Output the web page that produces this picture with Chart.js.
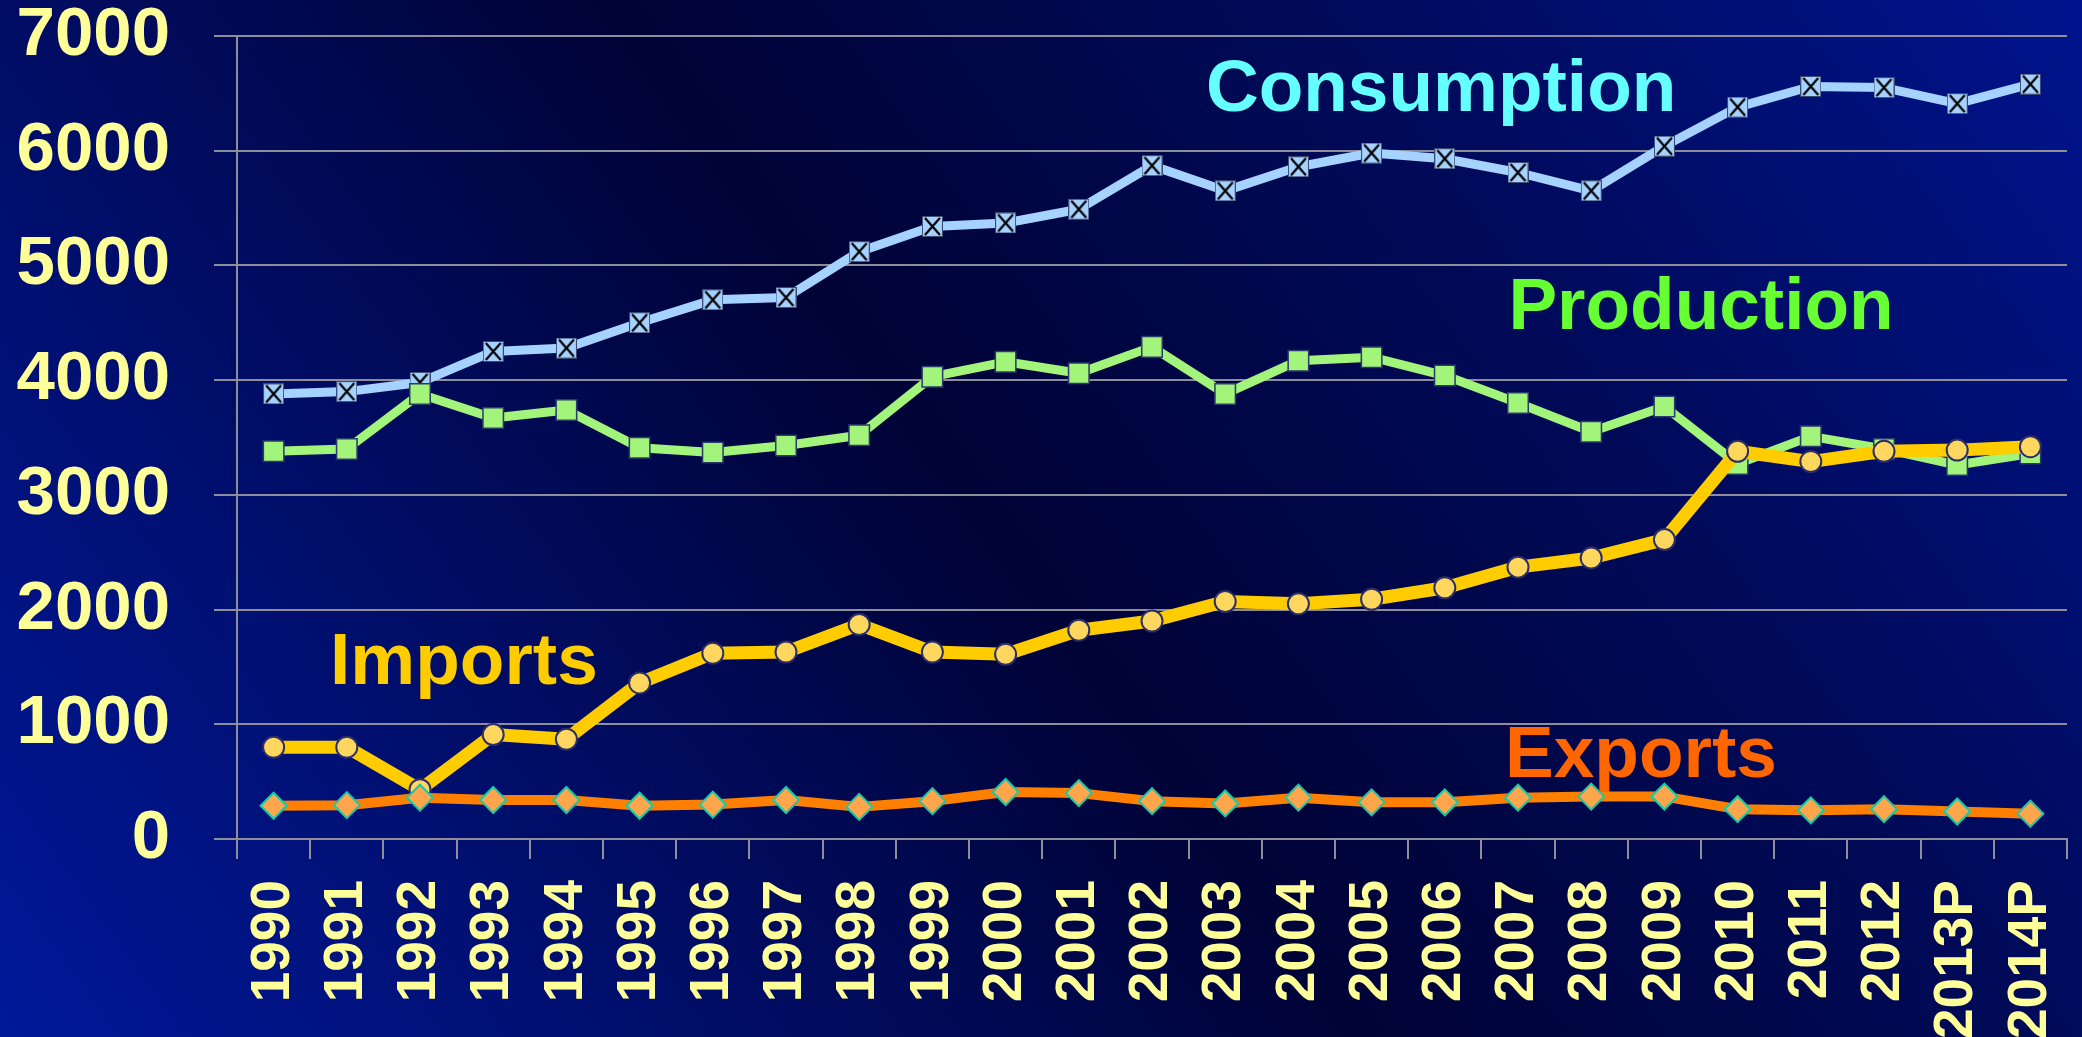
<!DOCTYPE html>
<html lang="en">
<head>
  <meta charset="UTF-8">
  <title>Consumption, Production, Imports, Exports 1990-2014</title>
  <script src="https://cdn.jsdelivr.net/npm/chart.js"></script>
  <style>
    html, body {
      margin: 0;
      width: 2082px;
      height: 1037px;
      overflow: hidden;
    }
    body {
      background: linear-gradient(54deg, #00189a 0%, #000f6e 22%, #000336 48%, #000a58 72%, #00148e 100%);
    }
    canvas { display: block; }
  </style>
</head>
<body>
  <canvas id="chart" width="2087" height="1037" style="width:2087px;height:1037px"></canvas>

  <script>
    // data
    const years = ['1990','1991','1992','1993','1994','1995','1996','1997','1998','1999',
      '2000','2001','2002','2003','2004','2005','2006','2007','2008','2009',
      '2010','2011','2012','2013P','2014P'];
    const consumption = [3880,3900,3980,4250,4280,4500,4700,4720,5120,5340,
      5370,5490,5870,5650,5860,5980,5930,5810,5650,6040,
      6380,6560,6550,6410,6580];
    const production = [3380,3400,3880,3670,3740,3410,3370,3430,3520,4030,
      4160,4060,4290,3880,4170,4200,4040,3800,3550,3770,
      3270,3510,3400,3260,3360];
    const imports = [800,800,430,910,870,1360,1620,1630,1870,1630,
      1610,1820,1900,2070,2050,2090,2190,2370,2450,2610,
      3380,3290,3380,3390,3420];
    const exports = [290,295,360,340,340,290,300,340,280,330,
      410,400,330,310,360,320,320,360,370,370,
      260,250,260,240,220];
    const yTicks = [0,1000,2000,3000,4000,5000,6000,7000];

    // series names written on the plot: [text, colour, category index, value at baseline]
    const seriesLabels = [
      ['Consumption', '#66ffff', 15.95, 6350],
      ['Production', '#66ff33', 19.5, 4450],
      ['Imports', '#ffcc00', 2.6, 1350],
      ['Exports', '#ff6600', 18.68, 540]
    ];

    // square marker with an X for consumption
    function crossBox(size) {
      const c = document.createElement('canvas');
      c.width = size; c.height = size;
      const g = c.getContext('2d');
      g.fillStyle = '#a6d2ff';
      g.fillRect(0, 0, size, size);
      g.strokeStyle = '#3a4a70';
      g.lineWidth = 1;
      g.strokeRect(0.5, 0.5, size - 1, size - 1);
      g.strokeStyle = '#000';
      g.lineWidth = 2.2;
      g.beginPath();
      g.moveTo(3, 2); g.lineTo(size - 3, size - 2);
      g.moveTo(size - 3, 2); g.lineTo(3, size - 2);
      g.stroke();
      return c;
    }

    const labelPlugin = {
      id: 'seriesLabels',
      afterDraw(chart) {
        const ctx = chart.ctx, x = chart.scales.x, y = chart.scales.y;
        ctx.save();
        ctx.font = 'bold 73px "Liberation Sans", sans-serif';
        ctx.textAlign = 'center';
        ctx.textBaseline = 'alphabetic';
        seriesLabels.forEach(([t, col, xi, yv]) => {
          ctx.fillStyle = col;
          ctx.fillText(t, x.getPixelForValue(xi), y.getPixelForValue(yv));
        });
        ctx.restore();
      }
    };

    const gridCol = '#8e8e9a';
    const tickFont = { family: '"Liberation Sans", sans-serif', weight: 'bold' };

    new Chart(document.getElementById('chart'), {
      type: 'line',
      data: {
        labels: years,
        datasets: [
          { label: 'Exports', data: exports, order: 0,
            borderColor: '#ff8000', borderWidth: 10,
            pointStyle: 'rectRot', pointRadius: 13, pointBackgroundColor: '#ffa64d',
            pointBorderColor: '#19c8a8', pointBorderWidth: 2 },
          { label: 'Imports', data: imports, order: 1,
            borderColor: '#ffcc00', borderWidth: 13,
            pointStyle: 'circle', pointRadius: 10.5, pointBackgroundColor: '#ffd75e',
            pointBorderColor: '#2a2f6a', pointBorderWidth: 2 },
          { label: 'Production', data: production, order: 2,
            borderColor: '#a3f47a', borderWidth: 9,
            pointStyle: 'rect', pointRadius: 14.5, pointBackgroundColor: '#a3f47a',
            pointBorderColor: '#2a3a6a', pointBorderWidth: 1.5 },
          { label: 'Consumption', data: consumption, order: 3,
            borderColor: '#a6d2ff', borderWidth: 9,
            pointStyle: crossBox(21), pointRadius: 11 }
        ]
      },
      options: {
        responsive: false,
        animation: false,
        layout: { padding: { top: 36, right: 0, left: 0, bottom: 0 } },
        plugins: { legend: { display: false }, tooltip: { enabled: false } },
        elements: { line: { tension: 0, borderJoinStyle: 'round' } },
        scales: {
          x: {
            offset: true,
            grid: { offset: true, drawOnChartArea: false, drawTicks: true, tickLength: 20, color: gridCol, lineWidth: 2 },
            border: { display: true, color: gridCol, width: 2 },
            ticks: { color: '#ffff99', font: { ...tickFont, size: 55 }, minRotation: 90, maxRotation: 90, padding: 21, autoSkip: false },
            afterFit(s) { s.height = 198; s.paddingLeft = 0; s.paddingRight = 0; }
          },
          y: {
            min: 0, max: 7000,
            afterBuildTicks(s) { s.ticks = yTicks.map(v => ({ value: v })); },
            grid: { color: gridCol, lineWidth: 2, tickLength: 23, drawTicks: true },
            border: { display: true, color: gridCol, width: 2 },
            ticks: { color: '#ffff99', font: { ...tickFont, size: 69 }, padding: 44, callback: v => String(v) },
            afterFit(s) { s.width = 237; s.paddingTop = 0; s.paddingBottom = 0; }
          }
        }
      },
      plugins: [labelPlugin]
    });
  </script>
</body>
</html>
